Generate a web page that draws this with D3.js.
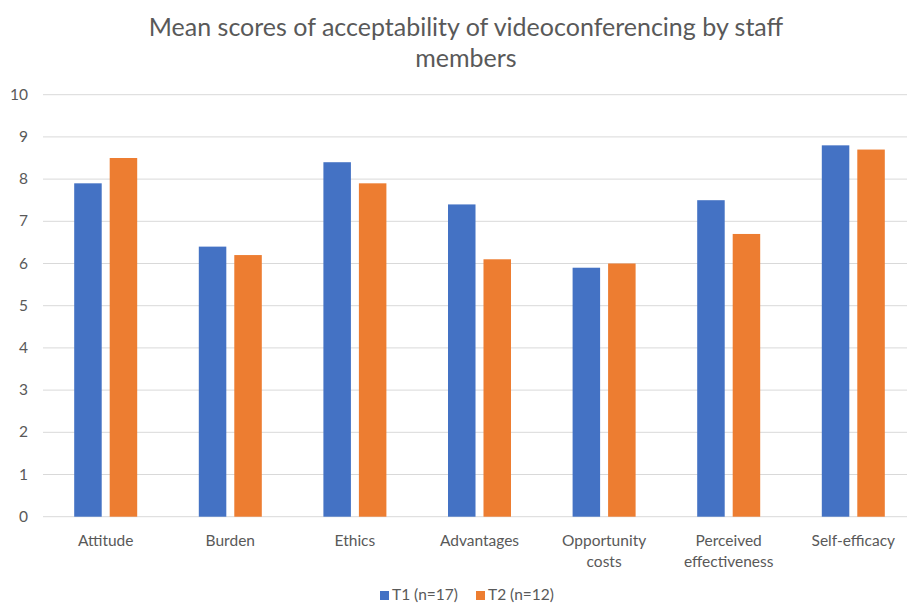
<!DOCTYPE html>
<html>
<head>
<meta charset="utf-8">
<script src="https://cdn.jsdelivr.net/npm/d3@7"></script>
<style>
  body { margin: 0; background: #fff; }
  text { font-family: Lato, "Open Sans", sans-serif; fill: #595959; }
</style>
</head>
<body>
<div id="chart"></div>
<script>
const categories = ["Attitude", "Burden", "Ethics", "Advantages", "Opportunity costs", "Perceived effectiveness", "Self-efficacy"];
const seriesNames = ["T1 (n=17)", "T2 (n=12)"];
const t1Values = [7.9, 6.4, 8.4, 7.4, 5.9, 7.5, 8.8];
const t2Values = [8.5, 6.2, 7.9, 6.1, 6.0, 6.7, 8.7];
const yTicks = [0, 1, 2, 3, 4, 5, 6, 7, 8, 9, 10];
const colors = ["#4472C4", "#ED7D31"];

const W = 907, H = 603;
const data = categories.map((c, i) => ({ cat: c, values: [t1Values[i], t2Values[i]] }));

const svg = d3.select("#chart")
    .append("svg")
        .attr("width", W)
        .attr("height", H);

// Titre
const title = svg.append("text")
    .attr("text-anchor", "middle")
    .style("font-size", "25px");
title.append("tspan").attr("x", 466).attr("y", 36).text("Mean scores of acceptability of videoconferencing by staff");
title.append("tspan").attr("x", 466).attr("y", 67).text("members");

const x0 = d3.scaleBand()
    .domain(categories)
    .range([43.4, 915.6])
    .padding(0);

const x1 = d3.scaleBand()
    .domain(seriesNames)
    .range([-31.5, 31.5])
    .paddingInner(0.225);

const y = d3.scaleLinear()
    .domain([0, 10])
    .range([516.7, 94.7]);

// Lignes de grille
svg.append("g")
    .selectAll("line")
    .data(yTicks)
    .enter()
    .append("line")
        .attr("x1", 43).attr("x2", W)
        .attr("y1", d => y(d)).attr("y2", d => y(d))
        .attr("stroke", "#D9D9D9")
        .attr("stroke-width", 1);

// Etiquettes axe Y
svg.append("g")
    .selectAll("text")
    .data(yTicks)
    .enter()
    .append("text")
        .attr("x", 28)
        .attr("y", d => y(d) + 5)
        .attr("text-anchor", "end")
        .style("font-size", "15.5px")
        .text(d => d);

// Barres
const groups = svg.append("g")
    .selectAll("g")
    .data(data)
    .enter()
    .append("g")
        .attr("transform", d => `translate(${x0(d.cat) + x0.bandwidth() / 2},0)`);

groups.selectAll("rect")
    .data(d => d.values.map((v, i) => ({ s: seriesNames[i], v: v, i: i })))
    .enter()
    .append("rect")
        .attr("x", d => x1(d.s))
        .attr("width", x1.bandwidth())
        .attr("y", d => y(d.v))
        .attr("height", d => y(0) - y(d.v))
        .attr("fill", d => colors[d.i]);

// Etiquettes categories
const catLabels = svg.append("g")
    .selectAll("text")
    .data(categories)
    .enter()
    .append("text")
        .attr("text-anchor", "middle")
        .style("font-size", "15.5px");

catLabels.each(function(d) {
    const cx = x0(d) + x0.bandwidth() / 2;
    const words = d.split(" ");
    const el = d3.select(this);
    words.forEach((w, i) => {
        el.append("tspan")
            .attr("x", cx)
            .attr("y", 546 + i * 21)
            .text(w);
    });
});

// Legende
const legend = svg.append("g");
const legendX = [380, 476];
seriesNames.forEach((s, i) => {
    legend.append("rect")
        .attr("x", legendX[i]).attr("y", 591)
        .attr("width", 9).attr("height", 9)
        .attr("fill", colors[i]);
    legend.append("text")
        .attr("x", legendX[i] + 12)
        .attr("y", 600)
        .style("font-size", "15.5px")
        .text(s);
});
</script>
</body>
</html>
